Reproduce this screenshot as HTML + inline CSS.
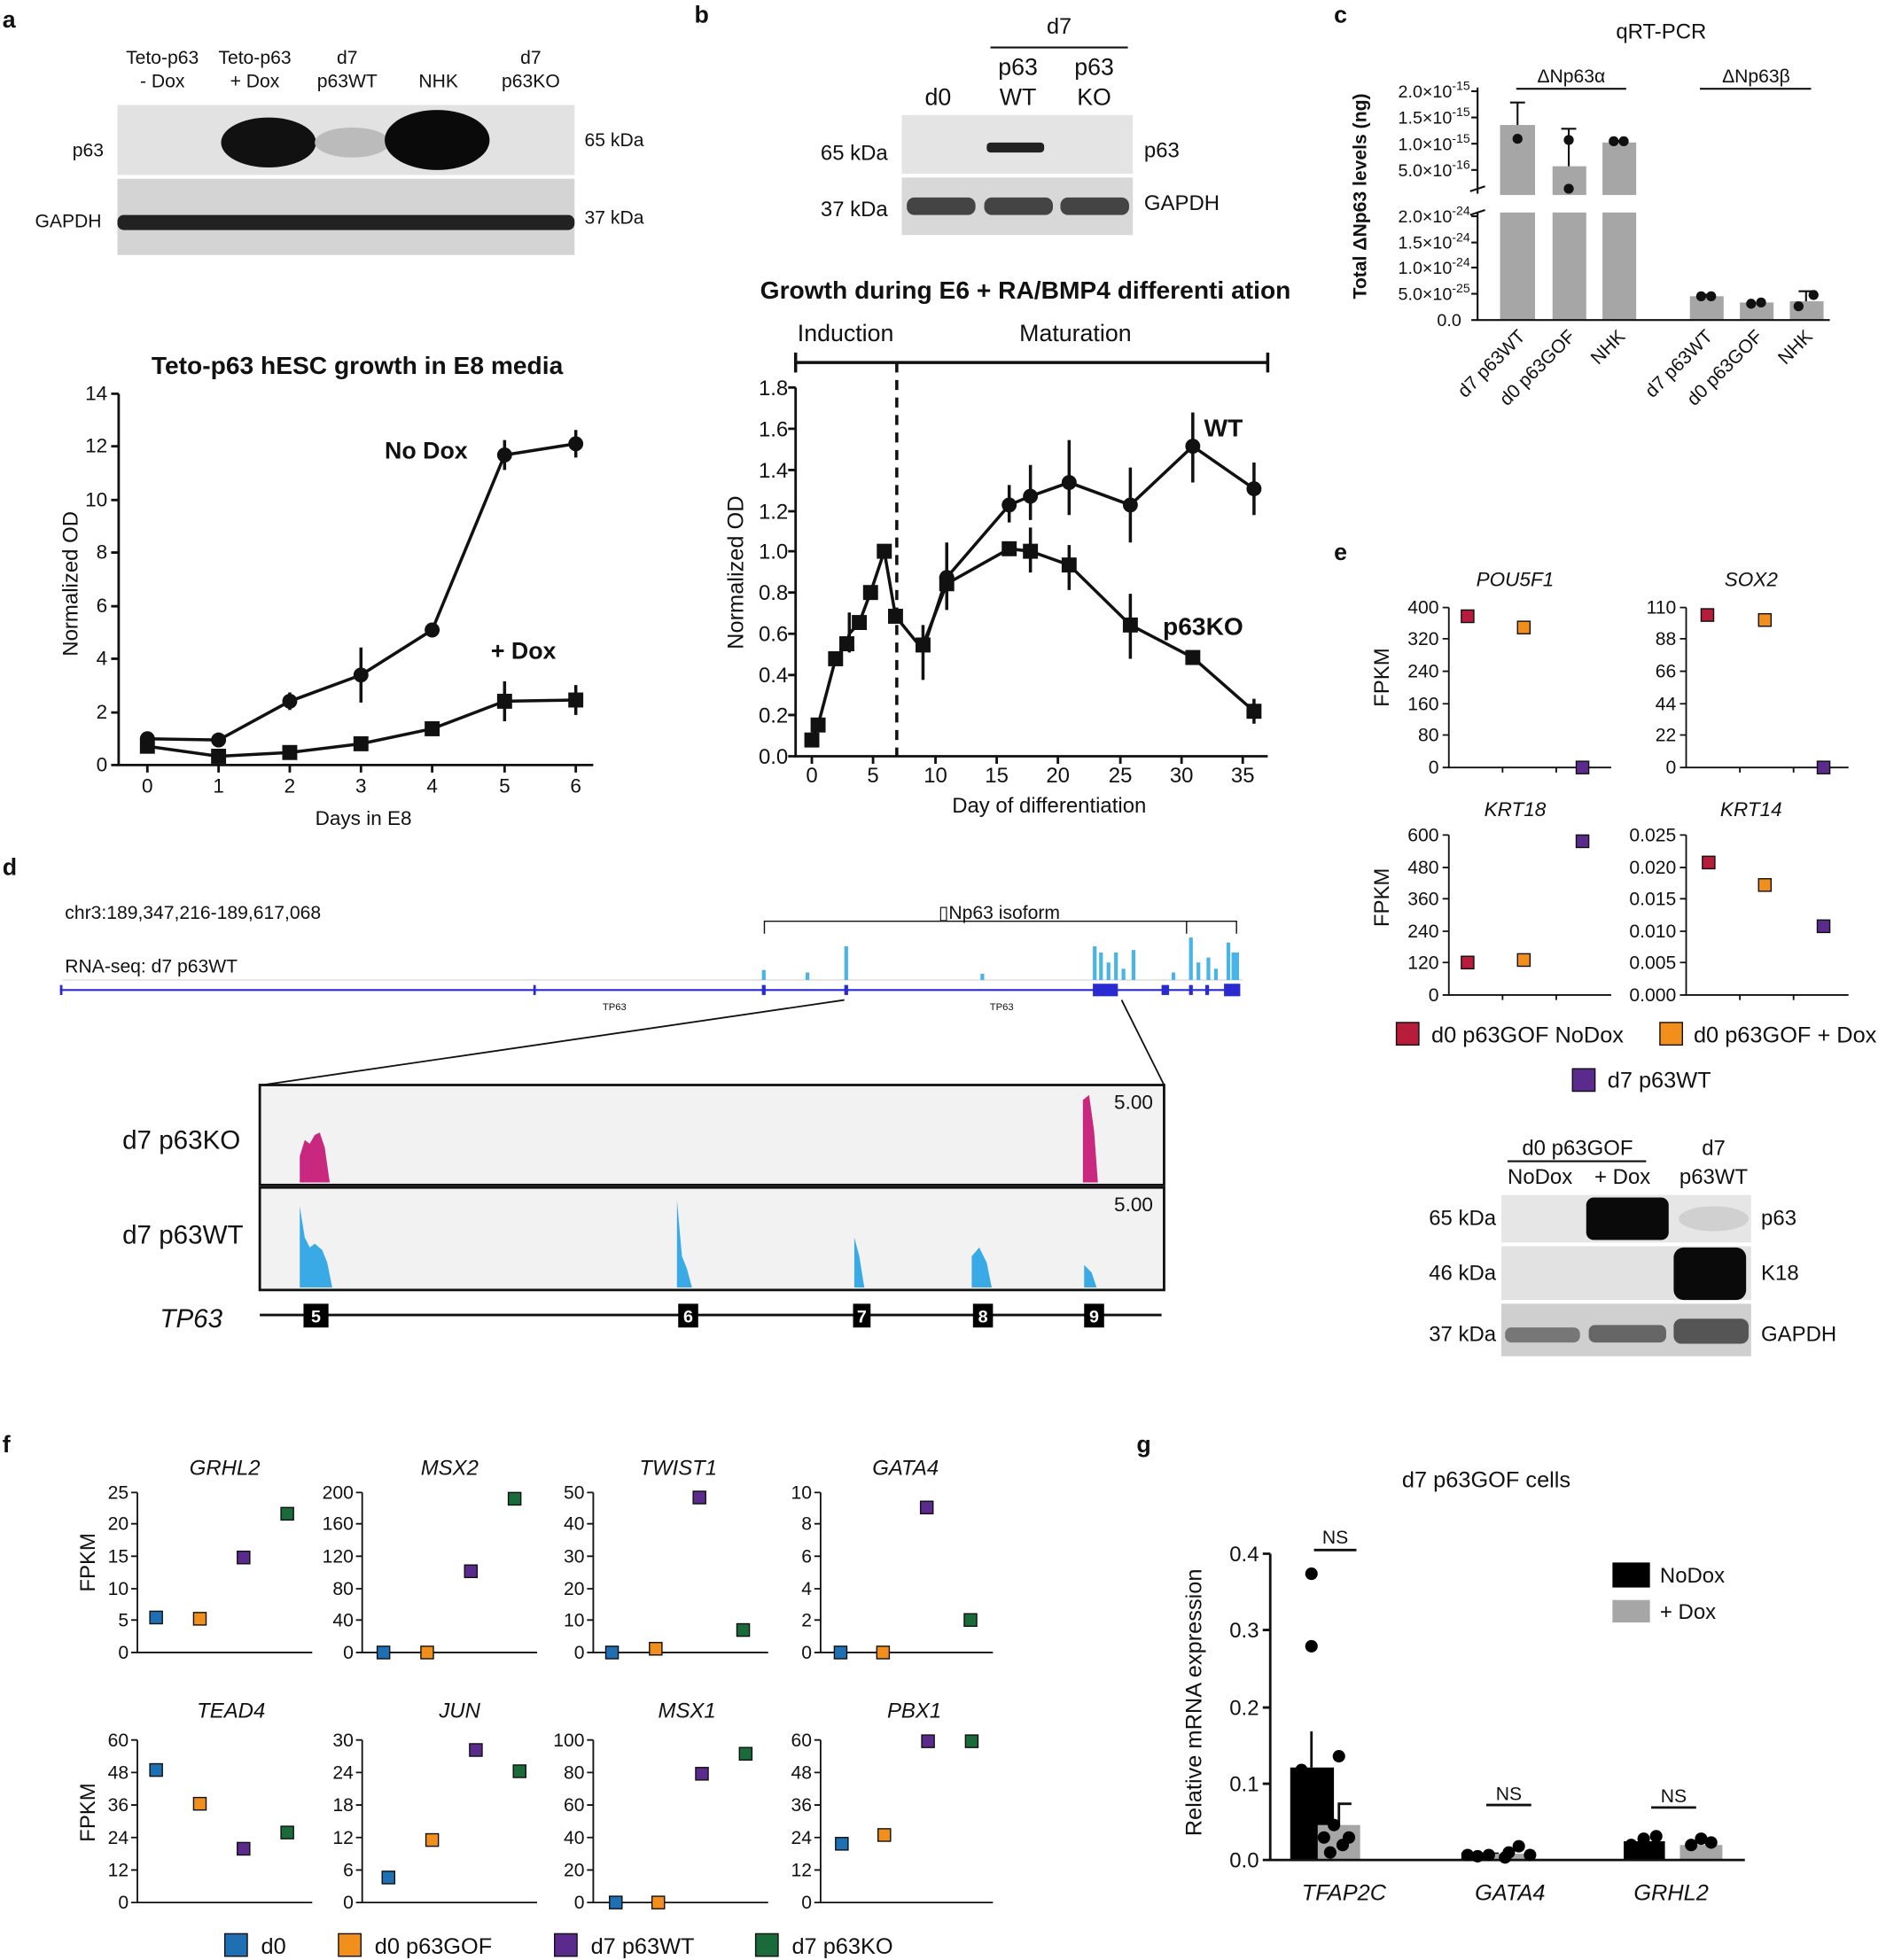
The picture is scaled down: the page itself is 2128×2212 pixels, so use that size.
<!DOCTYPE html>
<html><head><meta charset="utf-8"><style>html,body{margin:0;padding:0;background:#fff}svg{display:block}text{font-family:"Liberation Sans",Arial,sans-serif;fill:#111}text.w{fill:#fff}</style></head><body>
<svg width="2128" height="2212" viewBox="0 0 1510 1568" preserveAspectRatio="none" xmlns="http://www.w3.org/2000/svg">
<rect width="1510" height="1568" fill="#fff"/>
<g font-weight="bold" font-size="19"><text x="2" y="22">a</text><text x="556" y="18">b</text><text x="1068" y="18">c</text><text x="2" y="700">d</text><text x="1068" y="448">e</text><text x="2" y="1162">f</text><text x="910" y="1162">g</text></g>

<!-- a blot -->
<g font-size="15" text-anchor="middle"><text x="130" y="51">Teto-p63</text><text x="130" y="70">- Dox</text><text x="204" y="51">Teto-p63</text><text x="204" y="70">+ Dox</text><text x="278" y="51">d7</text><text x="278" y="70">p63WT</text><text x="351" y="70">NHK</text><text x="425" y="51">d7</text><text x="425" y="70">p63KO</text></g>
<rect x="94" y="84" width="366" height="56" fill="#e2e2e2"/>
<rect x="94" y="143" width="366" height="61" fill="#d4d4d4"/>
<ellipse cx="215" cy="114" rx="38" ry="20" fill="#111"/>
<ellipse cx="282" cy="114" rx="30" ry="12" fill="#bbb"/>
<ellipse cx="350" cy="112" rx="42" ry="24" fill="#0a0a0a"/>
<rect x="94" y="172" width="366" height="12" rx="5" fill="#222"/>
<g font-size="15"><text x="58" y="125">p63</text><text x="28" y="182">GAPDH</text><text x="468" y="117">65 kDa</text><text x="468" y="179">37 kDa</text></g>

<!-- a graph -->
<text x="286" y="299" font-size="20" font-weight="bold" text-anchor="middle">Teto-p63 hESC growth in E8 media</text>
<g stroke="#111" stroke-width="2" fill="none"><path d="M95 315V612H475"/>
<path d="M89 315h6M89 357h6M89 400h6M89 442h6M89 485h6M89 527h6M89 570h6M89 612h6M118 612v6M175 612v6M232 612v6M289 612v6M346 612v6M404 612v6M461 612v6"/></g>
<g font-size="16" text-anchor="end"><text x="86" y="320">14</text><text x="86" y="362">12</text><text x="86" y="405">10</text><text x="86" y="447">8</text><text x="86" y="490">6</text><text x="86" y="532">4</text><text x="86" y="575">2</text><text x="86" y="617">0</text></g>
<g font-size="16" text-anchor="middle"><text x="118" y="634">0</text><text x="175" y="634">1</text><text x="232" y="634">2</text><text x="289" y="634">3</text><text x="346" y="634">4</text><text x="404" y="634">5</text><text x="461" y="634">6</text><text x="291" y="660">Days in E8</text></g>
<text transform="translate(62,467) rotate(-90)" font-size="17" text-anchor="middle">Normalized OD</text>
<g stroke="#111" stroke-width="2.5" fill="none"><polyline points="118,591 175,592 232,561 289,540 346,504 404,364 461,355"/><polyline points="118,597 175,605 232,602 289,595 346,583 404,561 461,560"/>
<path d="M289,518v44M404,352v24M461,344v22M232,554v14M404,545v32M461,548v24"/></g>
<g fill="#111"><circle cx="118" cy="591" r="6"/><circle cx="175" cy="592" r="6"/><circle cx="232" cy="561" r="6"/><circle cx="289" cy="540" r="6"/><circle cx="346" cy="504" r="6"/><circle cx="404" cy="364" r="6"/><circle cx="461" cy="355" r="6"/>
<rect x="112" y="591" width="12" height="12"/><rect x="169" y="599" width="12" height="12"/><rect x="226" y="596" width="12" height="12"/><rect x="283" y="589" width="12" height="12"/><rect x="340" y="577" width="12" height="12"/><rect x="398" y="555" width="12" height="12"/><rect x="455" y="554" width="12" height="12"/></g>
<text x="308" y="367" font-size="19" font-weight="bold">No Dox</text><text x="393" y="527" font-size="19" font-weight="bold">+ Dox</text>

<!-- b blot -->
<text x="848" y="27" font-size="18" text-anchor="middle">d7</text><path d="M793 38H903" stroke="#111" stroke-width="1.5"/>
<g font-size="19" text-anchor="middle"><text x="751" y="84">d0</text><text x="815" y="60">p63</text><text x="815" y="84">WT</text><text x="876" y="60">p63</text><text x="876" y="84">KO</text></g>
<rect x="722" y="92" width="185" height="47" fill="#e4e4e4"/><rect x="722" y="142" width="185" height="46" fill="#d8d8d8"/>
<rect x="790" y="114" width="46" height="8" rx="3" fill="#222"/>
<rect x="726" y="158" width="55" height="14" rx="6" fill="#444"/><rect x="788" y="158" width="55" height="14" rx="6" fill="#444"/><rect x="849" y="158" width="55" height="14" rx="6" fill="#444"/>
<g font-size="17"><text x="657" y="128">65 kDa</text><text x="657" y="173">37 kDa</text><text x="916" y="126">p63</text><text x="916" y="168">GAPDH</text></g>

<!-- b graph -->
<text x="821" y="239" font-size="20" font-weight="bold" text-anchor="middle">Growth during E6 + RA/BMP4 differenti ation</text>
<g font-size="19" text-anchor="middle"><text x="677" y="273">Induction</text><text x="861" y="273">Maturation</text></g>
<path d="M637 290H1015M637 282v16M1015 282v16" stroke="#111" stroke-width="2.5" fill="none"/>
<path d="M718 290V605" stroke="#111" stroke-width="2.5" stroke-dasharray="8,6"/>
<g stroke="#111" stroke-width="2" fill="none"><path d="M637 310V605H1015"/>
<path d="M631 310h6M631 343h6M631 376h6M631 409h6M631 441h6M631 474h6M631 507h6M631 540h6M631 572h6M631 605h6M650 605v6M699 605v6M749 605v6M798 605v6M847 605v6M897 605v6M946 605v6M995 605v6"/></g>
<g font-size="17" text-anchor="end"><text x="631" y="316">1.8</text><text x="631" y="349">1.6</text><text x="631" y="382">1.4</text><text x="631" y="415">1.2</text><text x="631" y="447">1.0</text><text x="631" y="480">0.8</text><text x="631" y="513">0.6</text><text x="631" y="546">0.4</text><text x="631" y="578">0.2</text><text x="631" y="611">0.0</text></g>
<g font-size="17" text-anchor="middle"><text x="650" y="626">0</text><text x="699" y="626">5</text><text x="749" y="626">10</text><text x="798" y="626">15</text><text x="847" y="626">20</text><text x="897" y="626">25</text><text x="946" y="626">30</text><text x="995" y="626">35</text><text x="840" y="650">Day of differentiation</text></g>
<text transform="translate(595,458) rotate(-90)" font-size="18" text-anchor="middle">Normalized OD</text>
<g stroke="#111" stroke-width="2.5" fill="none">
<polyline points="650,592 655,580 669,527 678,515 680,507 688,498 697,474 708,441 717,493 739,520 758,462 808,404 825,397 856,386 905,404 955,357 1004,391"/>
<polyline points="739,516 758,467 808,439 825,441 856,452 905,500 955,526 1004,569"/>
<path d="M680,490v32M758,434v46M808,388v30M825,372v44M856,352v60M905,374v60M955,330v56M1004,370v42M758,444v44M825,422v36M856,436v36M905,475v52M1004,559v20M739,500v44"/></g>
<g fill="#111">
<g><rect x="644" y="586" width="12" height="12"/><rect x="649" y="574" width="12" height="12"/><rect x="663" y="521" width="12" height="12"/><rect x="672" y="509" width="12" height="12"/><rect x="682" y="492" width="12" height="12"/><rect x="691" y="468" width="12" height="12"/><rect x="702" y="435" width="12" height="12"/><rect x="711" y="487" width="12" height="12"/><rect x="733" y="510" width="12" height="12"/><rect x="752" y="461" width="12" height="12"/><rect x="802" y="433" width="12" height="12"/><rect x="819" y="435" width="12" height="12"/><rect x="850" y="446" width="12" height="12"/><rect x="899" y="494" width="12" height="12"/><rect x="949" y="520" width="12" height="12"/><rect x="998" y="563" width="12" height="12"/></g>
<circle cx="758" cy="462" r="6"/><circle cx="808" cy="404" r="6"/><circle cx="825" cy="397" r="6"/><circle cx="856" cy="386" r="6"/><circle cx="905" cy="404" r="6"/><circle cx="955" cy="357" r="6"/><circle cx="1004" cy="391" r="6"/></g>
<text x="964" y="349" font-size="20" font-weight="bold">WT</text><text x="931" y="508" font-size="20" font-weight="bold">p63KO</text>

<!-- c -->
<text x="1330" y="31" font-size="17" text-anchor="middle">qRT-PCR</text>
<g font-size="15" text-anchor="middle"><text x="1258" y="66">ΔNp63α</text><text x="1406" y="66">ΔNp63β</text></g>
<path d="M1214 71H1302M1361 71H1450" stroke="#111" stroke-width="1.5"/>
<text transform="translate(1094,157) rotate(-90)" font-size="15" font-weight="bold" text-anchor="middle">Total ΔNp63 levels (ng)</text>
<g font-size="14" text-anchor="end"><text x="1177" y="78">2.0×10<tspan font-size="10" dy="-6">-15</tspan></text><text x="1177" y="99">1.5×10<tspan font-size="10" dy="-6">-15</tspan></text><text x="1177" y="120">1.0×10<tspan font-size="10" dy="-6">-15</tspan></text><text x="1177" y="141">5.0×10<tspan font-size="10" dy="-6">-16</tspan></text>
<text x="1177" y="178">2.0×10<tspan font-size="10" dy="-6">-24</tspan></text><text x="1177" y="199">1.5×10<tspan font-size="10" dy="-6">-24</tspan></text><text x="1177" y="219">1.0×10<tspan font-size="10" dy="-6">-24</tspan></text><text x="1177" y="240">5.0×10<tspan font-size="10" dy="-6">-25</tspan></text><text x="1170" y="261">0.0</text></g>
<g fill="#a6a6a6"><rect x="1201" y="100" width="28" height="56"/><rect x="1201" y="170" width="28" height="86"/><rect x="1243" y="133" width="27" height="23"/><rect x="1243" y="170" width="27" height="86"/><rect x="1283" y="114" width="27" height="42"/><rect x="1283" y="170" width="27" height="86"/><rect x="1353" y="237" width="27" height="19"/><rect x="1393" y="242" width="27" height="14"/><rect x="1433" y="241" width="27" height="15"/></g>
<g stroke="#111" stroke-width="1.5" fill="none"><path d="M1183 70V155M1183 170V256H1465M1178 73h5M1178 94h5M1178 115h5M1178 136h5M1178 173h5M1178 194h5M1178 214h5M1178 235h5M1178 256h5M1177 153l12 -4M1177 172l12 -4"/>
<path d="M1215 100V82M1209 82h12M1256 133V103M1250 103h12M1296 114v-2M1366 237v-2M1446 241v-8M1440 233h12"/></g>
<g fill="#111"><circle cx="1215" cy="111" r="4"/><circle cx="1256" cy="112" r="4"/><circle cx="1256" cy="151" r="4"/><circle cx="1292" cy="113" r="4"/><circle cx="1300" cy="113" r="4"/><circle cx="1362" cy="237" r="4"/><circle cx="1370" cy="237" r="4"/><circle cx="1402" cy="243" r="4"/><circle cx="1410" cy="242" r="4"/><circle cx="1440" cy="245" r="4"/><circle cx="1452" cy="236" r="4"/></g>
<g font-size="15" text-anchor="end"><text transform="translate(1222,270) rotate(-45)">d7 p63WT</text><text transform="translate(1262,270) rotate(-45)">d0 p63GOF</text><text transform="translate(1302,270) rotate(-45)">NHK</text><text transform="translate(1372,270) rotate(-45)">d7 p63WT</text><text transform="translate(1412,270) rotate(-45)">d0 p63GOF</text><text transform="translate(1452,270) rotate(-45)">NHK</text></g>

<!-- e -->
<g font-size="16" font-style="italic" text-anchor="middle"><text x="1213" y="469">POU5F1</text><text x="1402" y="469">SOX2</text><text x="1213" y="653">KRT18</text><text x="1402" y="653">KRT14</text></g>
<g stroke="#111" stroke-width="1.3" fill="none"><path d="M1160 486V614H1290M1350 486V614H1480M1160 668V796H1290M1350 668V796H1480"/>
<path d="M1155 486h5M1155 511h5M1155 537h5M1155 563h5M1155 588h5M1155 614h5M1345 486h5M1345 511h5M1345 537h5M1345 563h5M1345 588h5M1345 614h5M1155 668h5M1155 694h5M1155 719h5M1155 745h5M1155 770h5M1155 796h5M1345 668h5M1345 694h5M1345 719h5M1345 745h5M1345 770h5M1345 796h5M1203 614v4M1246 614v4M1393 614v4M1436 614v4M1203 796v4M1246 796v4M1393 796v4M1436 796v4"/></g>
<g font-size="15" text-anchor="end"><text x="1152" y="491">400</text><text x="1152" y="516">320</text><text x="1152" y="542">240</text><text x="1152" y="568">160</text><text x="1152" y="593">80</text><text x="1152" y="619">0</text>
<text x="1342" y="491">110</text><text x="1342" y="516">88</text><text x="1342" y="542">66</text><text x="1342" y="568">44</text><text x="1342" y="593">22</text><text x="1342" y="619">0</text>
<text x="1152" y="673">600</text><text x="1152" y="699">480</text><text x="1152" y="724">360</text><text x="1152" y="750">240</text><text x="1152" y="775">120</text><text x="1152" y="801">0</text>
<text x="1342" y="673">0.025</text><text x="1342" y="699">0.020</text><text x="1342" y="724">0.015</text><text x="1342" y="750">0.010</text><text x="1342" y="775">0.005</text><text x="1342" y="801">0.000</text></g>
<text transform="translate(1112,542) rotate(-90)" font-size="17" text-anchor="middle">FPKM</text><text transform="translate(1112,718) rotate(-90)" font-size="17" text-anchor="middle">FPKM</text>
<g stroke="#111" stroke-width="1"><rect x="1170" y="488" width="10" height="10" fill="#b71c3a"/><rect x="1215" y="497" width="10" height="10" fill="#f28e1c"/><rect x="1262" y="609" width="10" height="10" fill="#5a2a8c"/><rect x="1362" y="487" width="10" height="10" fill="#b71c3a"/><rect x="1408" y="491" width="10" height="10" fill="#f28e1c"/><rect x="1455" y="609" width="10" height="10" fill="#5a2a8c"/><rect x="1170" y="765" width="10" height="10" fill="#b71c3a"/><rect x="1215" y="763" width="10" height="10" fill="#f28e1c"/><rect x="1262" y="668" width="10" height="10" fill="#5a2a8c"/><rect x="1363" y="685" width="10" height="10" fill="#b71c3a"/><rect x="1408" y="703" width="10" height="10" fill="#f28e1c"/><rect x="1455" y="736" width="10" height="10" fill="#5a2a8c"/>
<rect x="1118" y="818" width="18" height="18" fill="#b71c3a"/><rect x="1329" y="818" width="18" height="18" fill="#f28e1c"/><rect x="1259" y="855" width="18" height="18" fill="#5a2a8c"/></g>
<g font-size="18"><text x="1146" y="834">d0 p63GOF NoDox</text><text x="1356" y="834">d0 p63GOF + Dox</text><text x="1287" y="870">d7 p63WT</text></g>
<!-- e blot -->
<g font-size="17" text-anchor="middle"><text x="1263" y="924">d0 p63GOF</text><text x="1233" y="947">NoDox</text><text x="1299" y="947">+ Dox</text><text x="1372" y="924">d7</text><text x="1372" y="947">p63WT</text></g>
<path d="M1207 929H1318" stroke="#111" stroke-width="1.5"/>
<rect x="1202" y="956" width="200" height="38" fill="#e6e6e6"/><rect x="1202" y="997" width="200" height="43" fill="#e2e2e2"/><rect x="1202" y="1043" width="200" height="42" fill="#cfcfcf"/>
<rect x="1270" y="958" width="66" height="34" rx="6" fill="#0a0a0a"/><ellipse cx="1372" cy="975" rx="28" ry="10" fill="#d0d0d0"/>
<rect x="1340" y="998" width="58" height="42" rx="8" fill="#0a0a0a"/>
<rect x="1205" y="1062" width="60" height="12" rx="5" fill="#777"/><rect x="1272" y="1060" width="62" height="14" rx="5" fill="#666"/><rect x="1340" y="1055" width="60" height="20" rx="6" fill="#555"/>
<g font-size="17"><text x="1144" y="980">65 kDa</text><text x="1144" y="1024">46 kDa</text><text x="1144" y="1073">37 kDa</text><text x="1410" y="980">p63</text><text x="1410" y="1024">K18</text><text x="1410" y="1073">GAPDH</text></g>

<!-- d -->
<text x="52" y="735" font-size="15">chr3:189,347,216-189,617,068</text>
<text x="52" y="778" font-size="15">RNA-seq: d7 p63WT</text>
<path d="M612 747V737H990V747M950 737V747" stroke="#111" fill="none"/>
<text x="800" y="735" font-size="15" text-anchor="middle">▯Np63 isoform</text>
<path d="M50 784H995" stroke="#ddd"/>
<g fill="#4ab4e6"><rect x="610" y="776" width="3" height="8"/><rect x="645" y="778" width="3" height="6"/><rect x="676" y="757" width="3" height="27"/><rect x="785" y="779" width="3" height="5"/><rect x="875" y="757" width="3" height="27"/><rect x="880" y="762" width="3" height="22"/><rect x="886" y="770" width="3" height="14"/><rect x="892" y="762" width="3" height="22"/><rect x="898" y="775" width="3" height="9"/><rect x="906" y="760" width="3" height="24"/><rect x="938" y="778" width="3" height="6"/><rect x="952" y="750" width="3" height="34"/><rect x="958" y="770" width="3" height="14"/><rect x="966" y="766" width="3" height="18"/><rect x="972" y="775" width="3" height="9"/><rect x="982" y="754" width="3" height="30"/><rect x="986" y="762" width="6" height="22"/></g>
<path d="M48 792H992" stroke="#2a2ad0" stroke-width="1.5"/>
<g fill="#2a2ad0"><rect x="48" y="788" width="2" height="8"/><rect x="427" y="788" width="2" height="8"/><rect x="610" y="788" width="3" height="8"/><rect x="676" y="788" width="3" height="8"/><rect x="875" y="787" width="20" height="10"/><rect x="930" y="788" width="6" height="8"/><rect x="952" y="788" width="3" height="8"/><rect x="965" y="788" width="3" height="8"/><rect x="980" y="787" width="13" height="10"/></g>
<g font-size="8" text-anchor="middle"><text x="492" y="808">TP63</text><text x="802" y="808">TP63</text></g>
<path d="M676 800L210 868M898 800L932 868" stroke="#111" stroke-width="1.3"/>
<rect x="208" y="868" width="724" height="80" fill="#f2f2f2" stroke="#111" stroke-width="2"/>
<rect x="208" y="950" width="724" height="82" fill="#f2f2f2" stroke="#111" stroke-width="2"/>
<g font-size="21"><text x="98" y="919">d7 p63KO</text><text x="98" y="995">d7 p63WT</text></g>
<g font-size="16"><text x="892" y="887">5.00</text><text x="892" y="969">5.00</text></g>
<path d="M240 946V925L244 912L248 915L252 908L256 906L260 918L264 946Z" fill="#c8287e"/>
<path d="M867 946V880L872 876L876 905L879 946Z" fill="#c8287e"/>
<g fill="#3aaae6"><path d="M240 1030V965L244 990L248 998L252 995L258 1000L262 1010L266 1030Z"/><path d="M542 1030V960L546 1005L550 1015L554 1030Z"/><path d="M684 1030V990L688 1005L692 1030Z"/><path d="M778 1030V1005L784 998L790 1010L794 1030Z"/><path d="M868 1030V1012L874 1018L878 1030Z"/></g>
<text x="128" y="1062" font-size="21" font-style="italic">TP63</text>
<path d="M208 1052H930" stroke="#111" stroke-width="2"/>
<g fill="#000"><rect x="243" y="1043" width="20" height="19"/><rect x="543" y="1043" width="16" height="19"/><rect x="683" y="1043" width="14" height="19"/><rect x="779" y="1043" width="16" height="19"/><rect x="868" y="1043" width="16" height="19"/></g>
<g font-size="14" font-weight="bold" text-anchor="middle"><text class="w" x="253" y="1058">5</text><text class="w" x="551" y="1058">6</text><text class="w" x="690" y="1058">7</text><text class="w" x="787" y="1058">8</text><text class="w" x="876" y="1058">9</text></g>

<!-- f -->
<g font-size="17" font-style="italic" text-anchor="middle"><text x="180" y="1180">GRHL2</text><text x="360" y="1180">MSX2</text><text x="543" y="1180">TWIST1</text><text x="725" y="1180">GATA4</text><text x="185" y="1374">TEAD4</text><text x="368" y="1374">JUN</text><text x="550" y="1374">MSX1</text><text x="732" y="1374">PBX1</text></g>
<g stroke="#111" stroke-width="1.3" fill="none"><path d="M110 1194V1322H250M290 1194V1322H430M475 1194V1322H615M657 1194V1322H795M110 1392V1522H250M290 1392V1522H430M475 1392V1522H615M657 1392V1522H795"/>
<path d="M105 1194h5M105 1219h5M105 1245h5M105 1271h5M105 1296h5M105 1322h5M285 1194h5M285 1219h5M285 1245h5M285 1271h5M285 1296h5M285 1322h5M470 1194h5M470 1219h5M470 1245h5M470 1271h5M470 1296h5M470 1322h5M652 1194h5M652 1219h5M652 1245h5M652 1271h5M652 1296h5M652 1322h5
M105 1392h5M105 1418h5M105 1444h5M105 1470h5M105 1496h5M105 1522h5M285 1392h5M285 1418h5M285 1444h5M285 1470h5M285 1496h5M285 1522h5M470 1392h5M470 1418h5M470 1444h5M470 1470h5M470 1496h5M470 1522h5M652 1392h5M652 1418h5M652 1444h5M652 1470h5M652 1496h5M652 1522h5"/></g>
<g font-size="15" text-anchor="end">
<text x="103" y="1199">25</text><text x="103" y="1224">20</text><text x="103" y="1250">15</text><text x="103" y="1276">10</text><text x="103" y="1301">5</text><text x="103" y="1327">0</text>
<text x="283" y="1199">200</text><text x="283" y="1224">160</text><text x="283" y="1250">120</text><text x="283" y="1276">80</text><text x="283" y="1301">40</text><text x="283" y="1327">0</text>
<text x="468" y="1199">50</text><text x="468" y="1224">40</text><text x="468" y="1250">30</text><text x="468" y="1276">20</text><text x="468" y="1301">10</text><text x="468" y="1327">0</text>
<text x="650" y="1199">10</text><text x="650" y="1224">8</text><text x="650" y="1250">6</text><text x="650" y="1276">4</text><text x="650" y="1301">2</text><text x="650" y="1327">0</text>
<text x="103" y="1397">60</text><text x="103" y="1423">48</text><text x="103" y="1449">36</text><text x="103" y="1475">24</text><text x="103" y="1501">12</text><text x="103" y="1527">0</text>
<text x="283" y="1397">30</text><text x="283" y="1423">24</text><text x="283" y="1449">18</text><text x="283" y="1475">12</text><text x="283" y="1501">6</text><text x="283" y="1527">0</text>
<text x="468" y="1397">100</text><text x="468" y="1423">80</text><text x="468" y="1449">60</text><text x="468" y="1475">40</text><text x="468" y="1501">20</text><text x="468" y="1527">0</text>
<text x="650" y="1397">60</text><text x="650" y="1423">48</text><text x="650" y="1449">36</text><text x="650" y="1475">24</text><text x="650" y="1501">12</text><text x="650" y="1527">0</text></g>
<text transform="translate(76,1250) rotate(-90)" font-size="17" text-anchor="middle">FPKM</text><text transform="translate(76,1450) rotate(-90)" font-size="17" text-anchor="middle">FPKM</text>
<g stroke="#111" stroke-width="1">
<rect x="120" y="1289" width="10" height="10" fill="#1f6fb4"/><rect x="155" y="1290" width="10" height="10" fill="#f28e1c"/><rect x="190" y="1241" width="10" height="10" fill="#5a2a8c"/><rect x="225" y="1206" width="10" height="10" fill="#1a6b3a"/>
<rect x="302" y="1317" width="10" height="10" fill="#1f6fb4"/><rect x="337" y="1317" width="10" height="10" fill="#f28e1c"/><rect x="372" y="1252" width="10" height="10" fill="#5a2a8c"/><rect x="407" y="1194" width="10" height="10" fill="#1a6b3a"/>
<rect x="485" y="1317" width="10" height="10" fill="#1f6fb4"/><rect x="520" y="1314" width="10" height="10" fill="#f28e1c"/><rect x="555" y="1193" width="10" height="10" fill="#5a2a8c"/><rect x="590" y="1299" width="10" height="10" fill="#1a6b3a"/>
<rect x="668" y="1317" width="10" height="10" fill="#1f6fb4"/><rect x="702" y="1317" width="10" height="10" fill="#f28e1c"/><rect x="737" y="1201" width="10" height="10" fill="#5a2a8c"/><rect x="772" y="1291" width="10" height="10" fill="#1a6b3a"/>
<rect x="120" y="1411" width="10" height="10" fill="#1f6fb4"/><rect x="155" y="1438" width="10" height="10" fill="#f28e1c"/><rect x="190" y="1474" width="10" height="10" fill="#5a2a8c"/><rect x="225" y="1461" width="10" height="10" fill="#1a6b3a"/>
<rect x="306" y="1497" width="10" height="10" fill="#1f6fb4"/><rect x="341" y="1467" width="10" height="10" fill="#f28e1c"/><rect x="376" y="1395" width="10" height="10" fill="#5a2a8c"/><rect x="411" y="1412" width="10" height="10" fill="#1a6b3a"/>
<rect x="488" y="1517" width="10" height="10" fill="#1f6fb4"/><rect x="522" y="1517" width="10" height="10" fill="#f28e1c"/><rect x="557" y="1414" width="10" height="10" fill="#5a2a8c"/><rect x="592" y="1398" width="10" height="10" fill="#1a6b3a"/>
<rect x="669" y="1470" width="10" height="10" fill="#1f6fb4"/><rect x="703" y="1463" width="10" height="10" fill="#f28e1c"/><rect x="738" y="1388" width="10" height="10" fill="#5a2a8c"/><rect x="773" y="1388" width="10" height="10" fill="#1a6b3a"/>
<rect x="180" y="1547" width="18" height="18" fill="#1f6fb4"/><rect x="271" y="1547" width="18" height="18" fill="#f28e1c"/><rect x="444" y="1547" width="18" height="18" fill="#5a2a8c"/><rect x="605" y="1547" width="18" height="18" fill="#1a6b3a"/></g>
<g font-size="18"><text x="209" y="1563">d0</text><text x="300" y="1563">d0 p63GOF</text><text x="473" y="1563">d7 p63WT</text><text x="634" y="1563">d7 p63KO</text></g>

<!-- g -->
<text x="1190" y="1190" font-size="18" text-anchor="middle">d7 p63GOF cells</text>
<text transform="translate(962,1362) rotate(-90)" font-size="18" text-anchor="middle">Relative mRNA expression</text>
<g fill="#000"><rect x="1033" y="1414" width="35" height="74"/><rect x="1170" y="1482" width="30" height="6"/><rect x="1300" y="1473" width="33" height="15"/><rect x="1291" y="1250" width="30" height="20"/></g>
<g fill="#a6a6a6"><rect x="1055" y="1460" width="34" height="28"/><rect x="1195" y="1483" width="34" height="5"/><rect x="1345" y="1476" width="34" height="12"/><rect x="1291" y="1280" width="30" height="18"/></g>
<g stroke="#111" stroke-width="2" fill="none"><path d="M1017 1243V1488H1397M1011 1243h6M1011 1304h6M1011 1366h6M1011 1427h6M1011 1488h6M1050 1414v-29M1072 1460v-17h10M1052 1240h34M1190 1444h36M1322 1446h36"/></g>
<g font-size="17" text-anchor="end"><text x="1008" y="1249">0.4</text><text x="1008" y="1310">0.3</text><text x="1008" y="1372">0.2</text><text x="1008" y="1433">0.1</text><text x="1008" y="1494">0.0</text></g>
<g font-size="15" text-anchor="middle"><text x="1069" y="1235">NS</text><text x="1208" y="1440">NS</text><text x="1340" y="1442">NS</text></g>
<g font-size="18" font-style="italic" text-anchor="middle"><text x="1076" y="1520">TFAP2C</text><text x="1209" y="1520">GATA4</text><text x="1338" y="1520">GRHL2</text></g>
<g font-size="17"><text x="1329" y="1266">NoDox</text><text x="1329" y="1295">+ Dox</text></g>
<g fill="#000"><circle cx="1050" cy="1259" r="5"/><circle cx="1050" cy="1317" r="5"/><circle cx="1042" cy="1416" r="5"/><circle cx="1072" cy="1405" r="5"/><circle cx="1068" cy="1460" r="5"/><circle cx="1060" cy="1470" r="5"/><circle cx="1075" cy="1476" r="5"/><circle cx="1065" cy="1482" r="5"/><circle cx="1080" cy="1470" r="5"/>
<circle cx="1175" cy="1484" r="5"/><circle cx="1183" cy="1485" r="5"/><circle cx="1192" cy="1484" r="5"/><circle cx="1208" cy="1482" r="5"/><circle cx="1216" cy="1477" r="5"/><circle cx="1205" cy="1486" r="5"/><circle cx="1225" cy="1484" r="5"/>
<circle cx="1306" cy="1476" r="5"/><circle cx="1316" cy="1471" r="5"/><circle cx="1326" cy="1469" r="5"/><circle cx="1354" cy="1476" r="5"/><circle cx="1362" cy="1471" r="5"/><circle cx="1370" cy="1474" r="5"/></g>
</svg>
</body></html>
